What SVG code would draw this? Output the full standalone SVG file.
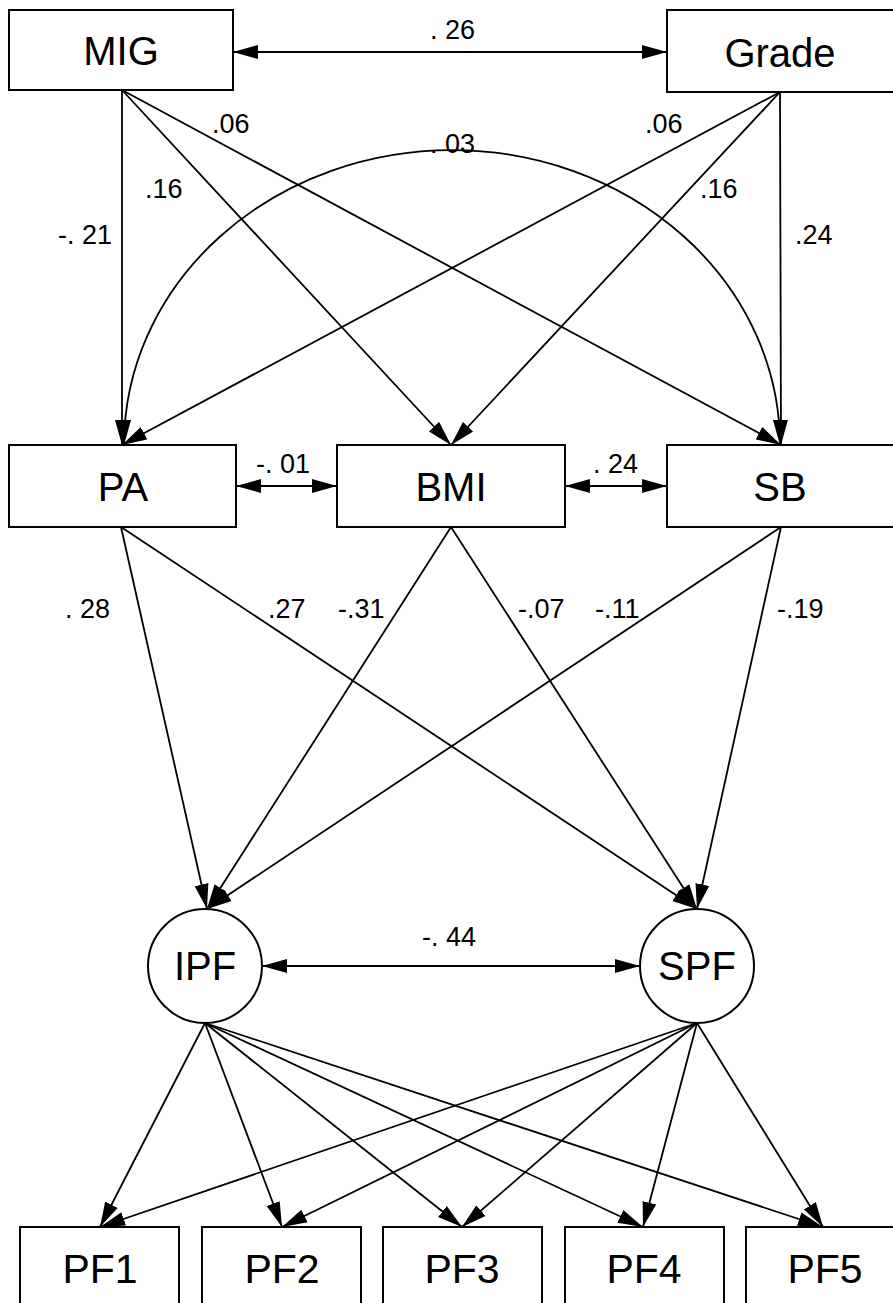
<svg xmlns="http://www.w3.org/2000/svg" width="893" height="1303" viewBox="0 0 893 1303">
<style>
.box{fill:#fff;stroke:#000;stroke-width:2}
.nt{font-family:"Liberation Sans",Arial,sans-serif;font-size:40px;fill:#000;text-anchor:middle}
.pf{font-size:41px}
.lb{font-family:"Liberation Sans",Arial,sans-serif;font-size:27px;fill:#000}
.c{fill:none;stroke:#000;stroke-width:1.8}
</style>
<defs>
<marker id="ah" markerUnits="userSpaceOnUse" markerWidth="26" markerHeight="16" refX="25" refY="7" orient="auto-start-reverse" viewBox="0 0 26 14">
<path d="M0,0 L25,7 L0,14 z" fill="#000"/>
</marker>
</defs>
<rect width="893" height="1303" fill="#fff"/>
<g id="connectors">
<line class="c" x1="233" y1="52" x2="667" y2="52" marker-start="url(#ah)" marker-end="url(#ah)"/>
<line class="c" x1="122" y1="90" x2="122" y2="445" marker-end="url(#ah)"/>
<line class="c" x1="122" y1="90" x2="451" y2="445" marker-end="url(#ah)"/>
<line class="c" x1="122" y1="90" x2="781" y2="445" marker-end="url(#ah)"/>
<line class="c" x1="780" y1="92" x2="781" y2="445" marker-end="url(#ah)"/>
<line class="c" x1="780" y1="92" x2="451" y2="445" marker-end="url(#ah)"/>
<line class="c" x1="780" y1="92" x2="122" y2="445" marker-end="url(#ah)"/>
<path class="c" d="M124,445 A328,295 0 0 1 780,445" marker-start="url(#ah)" marker-end="url(#ah)"/>
<line class="c" x1="236" y1="486" x2="337" y2="486" marker-start="url(#ah)" marker-end="url(#ah)"/>
<line class="c" x1="565" y1="486" x2="667" y2="486" marker-start="url(#ah)" marker-end="url(#ah)"/>
<line class="c" x1="121" y1="527" x2="207" y2="909" marker-end="url(#ah)"/>
<line class="c" x1="121" y1="527" x2="697" y2="909" marker-end="url(#ah)"/>
<line class="c" x1="451" y1="527" x2="207" y2="909" marker-end="url(#ah)"/>
<line class="c" x1="451" y1="527" x2="697" y2="909" marker-end="url(#ah)"/>
<line class="c" x1="781" y1="527" x2="207" y2="909" marker-end="url(#ah)"/>
<line class="c" x1="781" y1="527" x2="697" y2="909" marker-end="url(#ah)"/>
<line class="c" x1="262" y1="966" x2="640" y2="966" marker-start="url(#ah)" marker-end="url(#ah)"/>
<line class="c" x1="205" y1="1023" x2="100" y2="1227" marker-end="url(#ah)"/>
<line class="c" x1="205" y1="1023" x2="282" y2="1227" marker-end="url(#ah)"/>
<line class="c" x1="205" y1="1023" x2="462" y2="1227" marker-end="url(#ah)"/>
<line class="c" x1="205" y1="1023" x2="643" y2="1227" marker-end="url(#ah)"/>
<line class="c" x1="205" y1="1023" x2="823" y2="1227" marker-end="url(#ah)"/>
<line class="c" x1="697" y1="1023" x2="100" y2="1227" marker-end="url(#ah)"/>
<line class="c" x1="697" y1="1023" x2="282" y2="1227" marker-end="url(#ah)"/>
<line class="c" x1="697" y1="1023" x2="462" y2="1227" marker-end="url(#ah)"/>
<line class="c" x1="697" y1="1023" x2="643" y2="1227" marker-end="url(#ah)"/>
<line class="c" x1="697" y1="1023" x2="823" y2="1227" marker-end="url(#ah)"/>
</g>
<g id="labels">
<text class="lb" x="430" y="39">. 26</text>
<text class="lb" x="212" y="133">.06</text>
<text class="lb" x="145" y="198">.16</text>
<text class="lb" x="58" y="244">-. 21</text>
<text class="lb" x="430" y="153">. 03</text>
<text class="lb" x="645" y="133">.06</text>
<text class="lb" x="700" y="198">.16</text>
<text class="lb" x="795" y="244">.24</text>
<text class="lb" x="256" y="473">-. 01</text>
<text class="lb" x="593" y="473">. 24</text>
<text class="lb" x="65" y="618">. 28</text>
<text class="lb" x="268" y="618">.27</text>
<text class="lb" x="338" y="618">-.31</text>
<text class="lb" x="518" y="618">-.07</text>
<text class="lb" x="595" y="618">-.11</text>
<text class="lb" x="777" y="618">-.19</text>
<text class="lb" x="422" y="946">-. 44</text>
</g>
<g id="MIG"><rect class="box" x="9" y="10" width="224" height="80"/><text class="nt" x="121" y="65">MIG</text></g>
<g id="Grade"><rect class="box" x="667" y="10" width="240" height="82"/><text class="nt" x="780" y="67">Grade</text></g>
<g id="PA"><rect class="box" x="9" y="445" width="227" height="82"/><text class="nt" x="123" y="501">PA</text></g>
<g id="BMI"><rect class="box" x="337" y="445" width="228" height="82"/><text class="nt" x="451" y="501">BMI</text></g>
<g id="SB"><rect class="box" x="667" y="445" width="240" height="82"/><text class="nt" x="780" y="501">SB</text></g>
<g id="IPF"><circle class="box" cx="205" cy="966" r="57"/><text class="nt" x="205" y="980">IPF</text></g>
<g id="SPF"><circle class="box" cx="697" cy="966" r="57"/><text class="nt" x="697" y="980">SPF</text></g>
<g id="PF1"><rect class="box" x="20" y="1227" width="159" height="90"/><text class="nt pf" x="100" y="1283">PF1</text></g>
<g id="PF2"><rect class="box" x="202" y="1227" width="159" height="90"/><text class="nt pf" x="282" y="1283">PF2</text></g>
<g id="PF3"><rect class="box" x="383" y="1227" width="159" height="90"/><text class="nt pf" x="462" y="1283">PF3</text></g>
<g id="PF4"><rect class="box" x="565" y="1227" width="159" height="90"/><text class="nt pf" x="644" y="1283">PF4</text></g>
<g id="PF5"><rect class="box" x="746" y="1227" width="159" height="90"/><text class="nt pf" x="825" y="1283">PF5</text></g>
</svg>
